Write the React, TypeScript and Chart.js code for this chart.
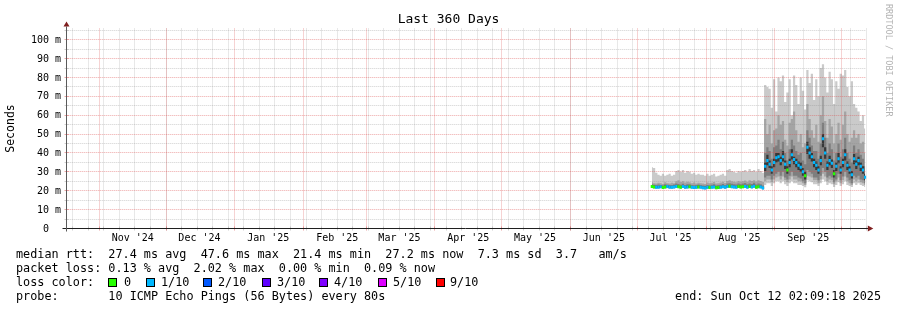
import React, { useEffect, useRef } from "react";
import { Chart, registerables } from "chart.js";

Chart.register(...registerables);

const FONT = '"DejaVu Sans Mono", "Liberation Mono", monospace';
const TITLE = "Last 360 Days";
const Y_TITLE = "Seconds";
const WATERMARK = "RRDTOOL / TOBI OETIKER";
const END_TEXT = "end: Sun Oct 12 02:09:18 2025";
const STATS_RTT = "median rtt:  27.4 ms avg  47.6 ms max  21.4 ms min  27.2 ms now  7.3 ms sd  3.7   am/s";
const STATS_LOSS = "packet loss: 0.13 % avg  2.02 % max  0.00 % min  0.09 % now";
const LOSS_TITLE = "loss color:";
const PROBE_LINE = "probe:       10 ICMP Echo Pings (56 Bytes) every 80s";

const SPAN_DAYS = 360;
const Y_MAX = 105.93;
const DAY_MS = 86400000;
const START_MS = Date.UTC(2024, 9, 17, 2, 9, 18);
const FIRST_SUNDAY_MS = Date.UTC(2024, 9, 20);

const yMajorValues = [0, 10, 20, 30, 40, 50, 60, 70, 80, 90, 100];
const yMajorLabels = ["0  ", "10 m", "20 m", "30 m", "40 m", "50 m", "60 m", "70 m", "80 m", "90 m", "100 m"];
const yMinorValues = [5, 15, 25, 35, 45, 55, 65, 75, 85, 95, 105];

const monthStarts: [number, number][] = [
  [2024, 10], [2024, 11], [2025, 0], [2025, 1], [2025, 2], [2025, 3],
  [2025, 4], [2025, 5], [2025, 6], [2025, 7], [2025, 8], [2025, 9],
];
const monthLabels = ["Nov '24", "Dec '24", "Jan '25", "Feb '25", "Mar '25", "Apr '25",
  "May '25", "Jun '25", "Jul '25", "Aug '25", "Sep '25", "Oct '25"];

const lossLegendLabels = ["0", "1/10", "2/10", "3/10", "4/10", "5/10", "9/10"];
const lossLegendColors = ["#26ff00", "#00b8ff", "#0059ff", "#5e00ff", "#7e00ff", "#dd00ff", "#ff0000"];
const lossColorByTenths: Record<number, string> = {
  0: "#26ff00", 1: "#00b8ff", 2: "#0059ff", 3: "#5e00ff", 4: "#7e00ff", 5: "#dd00ff", 9: "#ff0000",
};

// daily bins, first bin centred at day 263.5 after the graph start
const FIRST_BIN_DAY = 263.5;

const smokeMax = [
  32.5, 32, 29.5, 28.5, 28, 29, 28, 28.5, 29, 28,
  28.5, 30.5, 31, 30, 31, 29.5, 30.5, 30, 29, 29.5,
  28.5, 29, 28.5, 28.5, 28, 29, 28, 28.5, 29, 27.5,
  28, 28.5, 29, 28, 31, 31.5, 30.5, 30, 29.5, 30.5,
  30, 30.5, 31, 30, 31.5, 30.5, 31, 30, 31.5, 30.5,
  29.5,
  76, 75, 74, 64, 79, 62, 80, 78, 81, 67,
  72, 79, 60, 81, 76, 66, 80, 73, 63, 84,
  77, 82, 68, 79, 70, 85, 87, 80, 72, 83,
  79, 66, 78, 74, 82, 81, 84, 75, 70, 78,
  66, 64, 62, 57, 60, 53,
];
const smokeHi2 = [
  24.5, 24, 23.8, 24.2, 24, 23.6, 24.5, 24, 23.8, 24.2,
  24, 25, 25.5, 24.6, 25, 24.4, 24.8, 24.5, 24, 24.3,
  23.8, 24.2, 24, 23.9, 23.6, 24.4, 24, 24.2, 24.6, 23.8,
  24, 24.3, 24.8, 24.1, 25.2, 25.6, 25, 24.8, 24.5, 25.1,
  24.7, 25, 25.4, 24.8, 25.6, 25.2, 25.5, 24.9, 25.6, 25.1,
  24.6,
  58, 50, 55, 45, 52, 53, 60, 55, 57, 47,
  44, 56, 58, 62, 52, 46, 50, 43, 45, 66,
  58, 52, 48, 55, 46, 60, 70, 57, 48, 58,
  54, 45, 50, 56, 47, 55, 62, 50, 46, 48,
  52, 48, 50, 45, 46, 40,
];
const smokeHi3 = [
  23.4, 23.2, 23.0, 23.3, 23.1, 22.9, 23.4, 23.2, 23.0, 23.1,
  23.3, 23.8, 23.6, 23.2, 23.7, 23.0, 23.4, 23.5, 23.1, 22.9,
  23.0, 23.3, 23.1, 22.8, 22.7, 23.1, 22.9, 23.2, 23.4, 22.8,
  23.0, 23.2, 23.6, 23.1, 23.8, 24.0, 23.7, 23.5, 23.3, 23.9,
  23.5, 23.8, 24.1, 23.4, 23.9, 23.6, 24.2, 23.3, 23.8, 23.5,
  22.8,
  40, 43, 41, 37, 43, 44, 47, 42, 46, 40,
  36, 42, 47, 44, 41, 39, 40, 36, 34, 52,
  48, 44, 41, 41, 37, 45, 56, 48, 40, 45,
  42, 36, 40, 45, 38, 42, 48, 40, 37, 35,
  44, 40, 42, 39, 37, 33,
];
const smokeHi4 = [
  22.8, 22.6, 22.4, 22.5, 22.7, 22.3, 22.6, 22.8, 22.5, 22.4,
  22.6, 23.1, 22.7, 22.5, 22.8, 22.4, 22.6, 22.7, 22.5, 22.3,
  22.4, 22.6, 22.5, 22.2, 22.1, 22.4, 22.3, 22.5, 22.6, 22.2,
  22.3, 22.5, 22.7, 22.4, 22.9, 23.0, 22.7, 22.6, 22.5, 22.8,
  22.6, 22.7, 22.9, 22.5, 22.8, 22.6, 23.2, 22.4, 22.7, 22.6,
  22.0,
  35, 39, 36, 33, 37, 40, 40, 38, 41, 36,
  33, 37, 42, 38, 37, 35.5, 35, 32, 30, 46,
  43, 40, 37, 35.5, 33, 38.5, 50, 43, 35.5, 38.5,
  36.5, 31, 35, 40, 33, 37, 42, 35.5, 33, 30.5,
  39.5, 36, 38, 35, 33, 29,
];
const medianRtt = [
  22.2, 22.0, 21.8, 21.9, 22.1, 21.7, 22.0, 22.2, 21.9, 21.8,
  22.0, 22.3, 22.1, 21.9, 22.2, 21.8, 22.0, 22.1, 21.9, 21.7,
  21.8, 22.0, 21.9, 21.6, 21.5, 21.8, 21.7, 21.9, 22.0, 21.6,
  21.7, 21.9, 22.1, 21.8, 22.2, 22.4, 22.1, 22.0, 21.9, 22.2,
  22.0, 22.1, 22.3, 21.9, 22.2, 22.0, 22.4, 21.8, 22.1, 22.0,
  21.4,
  33, 36, 34, 31, 35, 37.5, 38, 36, 38, 34,
  31, 35, 39, 36.5, 35, 33.5, 32.5, 30, 28, 43,
  40, 38, 35, 33.5, 31, 36, 47.6, 40, 33.5, 36,
  34.5, 29, 33, 37, 31, 35, 39, 33.5, 31, 28.5,
  37, 34, 36, 33, 31, 27.2,
];
const smokeLo4 = [
  21.8, 21.7, 21.5, 21.6, 21.8, 21.4, 21.7, 21.9, 21.6, 21.5,
  21.7, 22.0, 21.8, 21.6, 21.9, 21.5, 21.7, 21.8, 21.6, 21.4,
  21.5, 21.7, 21.6, 21.3, 21.2, 21.5, 21.4, 21.6, 21.7, 21.3,
  21.4, 21.6, 21.8, 21.5, 21.9, 22.1, 21.8, 21.7, 21.6, 21.9,
  21.7, 21.8, 22.0, 21.6, 21.9, 21.7, 22.1, 21.5, 21.8, 21.7,
  21.1,
  30.5, 33.5, 32, 29, 32.5, 35, 35.5, 33.5, 35.5, 31.5,
  29, 32.5, 36.5, 34, 32.5, 31, 30, 28, 26, 39.5,
  37, 35.5, 32.5, 31, 29, 33.5, 43, 37, 31, 33.5,
  32, 27, 30.5, 34.5, 29, 32.5, 36, 31, 29, 26.5,
  34, 31.5, 33.5, 30.5, 29, 25.5,
];
const smokeLo3 = [
  21.6, 21.5, 21.3, 21.4, 21.6, 21.2, 21.5, 21.7, 21.4, 21.3,
  21.5, 21.8, 21.6, 21.4, 21.7, 21.3, 21.5, 21.6, 21.4, 21.2,
  21.3, 21.5, 21.4, 21.1, 21.0, 21.3, 21.2, 21.4, 21.5, 21.1,
  21.2, 21.4, 21.6, 21.3, 21.7, 21.9, 21.6, 21.5, 21.4, 21.7,
  21.5, 21.6, 21.8, 21.4, 21.7, 21.5, 21.9, 21.3, 21.6, 21.5,
  20.9,
  27, 28, 28, 26, 28, 29, 30, 28, 30, 27,
  26, 28, 30, 28, 28, 27, 26.5, 25, 24, 31,
  30, 29, 27, 27, 25.5, 28, 32, 30, 27, 28,
  27, 24.5, 26, 29, 25.5, 27.5, 30, 27, 25.5, 24,
  28, 27, 28, 26, 25.5, 24,
];
const smokeLo2 = [
  21.5, 21.3, 21.2, 21.3, 21.4, 21.1, 21.3, 21.5, 21.3, 21.2,
  21.3, 21.6, 21.5, 21.3, 21.5, 21.2, 21.3, 21.5, 21.3, 21.1,
  21.2, 21.3, 21.3, 21.0, 20.9, 21.2, 21.1, 21.3, 21.3, 21.0,
  21.1, 21.3, 21.4, 21.2, 21.5, 21.7, 21.5, 21.3, 21.3, 21.5,
  21.3, 21.5, 21.6, 21.3, 21.5, 21.4, 21.7, 21.2, 21.4, 21.4,
  20.8,
  25, 26, 26, 24.5, 26, 27, 27.5, 26, 27.5, 25.5,
  24.5, 26, 27.5, 26, 26, 25, 25, 24, 23, 28,
  27.5, 27, 25.5, 25.5, 24, 26, 29, 27.5, 25, 26,
  25.5, 23.5, 25, 27, 24, 25.5, 27.5, 25, 24, 23,
  26, 25, 26, 24.5, 24, 23,
];
const smokeMin = [
  21.3, 21.2, 21.0, 21.1, 21.3, 20.9, 21.2, 21.3, 21.1, 21.0,
  21.2, 21.4, 21.3, 21.1, 21.4, 21.0, 21.2, 21.3, 21.1, 20.9,
  21.0, 21.2, 21.1, 20.8, 20.7, 21.0, 20.9, 21.1, 21.2, 20.8,
  20.9, 21.1, 21.3, 21.0, 21.4, 21.5, 21.3, 21.2, 21.1, 21.4,
  21.2, 21.3, 21.5, 21.1, 21.4, 21.2, 21.5, 21.0, 21.3, 21.2,
  20.6,
  23, 24, 24, 22.5, 24, 25, 25, 24, 25, 23.5,
  22.5, 24, 25, 24, 24, 23, 23, 22.5, 21.8, 25.5,
  25, 24.5, 23.5, 23.5, 22.5, 24, 26, 25, 23, 24,
  23.5, 22, 23, 24.5, 22.5, 23.5, 25, 23, 22.5, 22,
  24, 23, 24, 23, 22.5, 22,
];
const lossTenths = [
  0, 0, 1, 1, 1, 0, 0, 1, 1, 1,
  1, 1, 0, 0, 1, 1, 1, 0, 1, 1,
  1, 0, 1, 1, 1, 1, 0, 1, 1, 0,
  0, 1, 1, 1, 1, 0, 1, 1, 1, 0,
  0, 0, 1, 1, 0, 1, 1, 0, 0, 1,
  1,
  1, 1, 1, 1, 1, 1, 1, 1, 1, 1,
  0, 1, 1, 1, 1, 1, 1, 1, 0, 1,
  1, 1, 1, 1, 1, 1, 1, 1, 1, 1,
  1, 0, 1, 1, 1, 1, 1, 1, 1, 1,
  1, 1, 1, 1, 1, 1,
];

const SMOKE_COLORS = ["#cacaca", "#a4a4a4", "#7e7e7e", "#383838"];
const GRID_MINOR = "rgba(143,143,143,0.42)";
const GRID_MAJOR = "rgba(222,79,79,0.5)";
const AXIS_COLOR = "#1f1f1f";
const ARROW_COLOR = "rgb(128,31,31)";

const dayOf = (ms: number) => (ms - START_MS) / DAY_MS;

function points(values: number[]) {
  return values.map((v, i) => ({ x: FIRST_BIN_DAY + i, y: v }));
}

function band(upper: number[], lower: number[], color: string) {
  const common = {
    borderWidth: 0,
    borderColor: "rgba(0,0,0,0)",
    pointRadius: 0,
    pointHoverRadius: 0,
    stepped: "middle" as const,
  };
  return [
    { ...common, data: points(upper), fill: "+1", backgroundColor: color },
    { ...common, data: points(lower), fill: false, backgroundColor: color },
  ];
}

function weeklyDays(): number[] {
  const out: number[] = [];
  for (let t = FIRST_SUNDAY_MS; dayOf(t) < SPAN_DAYS; t += 7 * DAY_MS) out.push(dayOf(t));
  return out;
}
function monthDays(): number[] {
  return monthStarts.map(([y, m]) => dayOf(Date.UTC(y, m, 1))).filter((d) => d > 0 && d < SPAN_DAYS);
}

function drawGrid(chart: any) {
  const { ctx, chartArea: a, scales } = chart;
  const xs = scales.x;
  const ys = scales.y;
  ctx.save();
  ctx.lineWidth = 1;
  ctx.setLineDash([1, 1]);
  const vline = (d: number) => {
    const px = Math.floor(xs.getPixelForValue(d)) + 0.5;
    ctx.beginPath();
    ctx.moveTo(px, a.top);
    ctx.lineTo(px, a.bottom);
    ctx.stroke();
  };
  const hline = (v: number) => {
    const py = Math.floor(ys.getPixelForValue(v)) + 0.5;
    ctx.beginPath();
    ctx.moveTo(a.left, py);
    ctx.lineTo(a.right, py);
    ctx.stroke();
  };
  ctx.strokeStyle = GRID_MINOR;
  weeklyDays().forEach(vline);
  yMinorValues.forEach(hline);
  ctx.strokeStyle = GRID_MAJOR;
  monthDays().forEach(vline);
  yMajorValues.filter((v) => v > 0).forEach(hline);
  ctx.restore();
}

function drawDecor(chart: any) {
  const { ctx, chartArea: a, scales } = chart;
  const xs = scales.x;
  const ys = scales.y;
  const x0 = Math.floor(a.left) + 0.5;
  const y0 = Math.floor(ys.getPixelForValue(0)) + 0.5;
  ctx.save();
  ctx.setLineDash([]);
  ctx.lineWidth = 1;

  const xTick = (d: number, color: string) => {
    const px = Math.floor(xs.getPixelForValue(d)) + 0.5;
    ctx.strokeStyle = color;
    ctx.beginPath();
    ctx.moveTo(px, y0 - 2);
    ctx.lineTo(px, y0 + 2);
    ctx.stroke();
  };
  const yTick = (v: number, color: string) => {
    const py = Math.floor(ys.getPixelForValue(v)) + 0.5;
    ctx.strokeStyle = color;
    ctx.beginPath();
    ctx.moveTo(x0 - 2, py);
    ctx.lineTo(x0 + 2, py);
    ctx.stroke();
  };
  weeklyDays().forEach((d) => xTick(d, GRID_MINOR));
  monthDays().forEach((d) => xTick(d, GRID_MAJOR));
  yMinorValues.forEach((v) => yTick(v, GRID_MINOR));
  yMajorValues.filter((v) => v > 0).forEach((v) => yTick(v, GRID_MAJOR));

  ctx.strokeStyle = AXIS_COLOR;
  ctx.beginPath();
  ctx.moveTo(x0 - 4, y0);
  ctx.lineTo(a.right + 2, y0);
  ctx.stroke();
  ctx.strokeStyle = "#5a5a5a";
  ctx.beginPath();
  ctx.moveTo(x0, y0 + 3);
  ctx.lineTo(x0, a.top - 2);
  ctx.stroke();

  ctx.fillStyle = ARROW_COLOR;
  ctx.beginPath();
  ctx.moveTo(a.right + 7, y0);
  ctx.lineTo(a.right + 1.5, y0 - 3);
  ctx.lineTo(a.right + 1.5, y0 + 3);
  ctx.closePath();
  ctx.fill();
  ctx.beginPath();
  ctx.moveTo(x0, a.top - 7);
  ctx.lineTo(x0 - 3, a.top - 2);
  ctx.lineTo(x0 + 3, a.top - 2);
  ctx.closePath();
  ctx.fill();

  ctx.fillStyle = "#000";
  ctx.font = `10px ${FONT}`;
  ctx.textAlign = "right";
  ctx.textBaseline = "middle";
  yMajorValues.forEach((v, i) => {
    ctx.fillText(yMajorLabels[i], a.left - 5.3, ys.getPixelForValue(v) + 0.5);
  });

  ctx.textAlign = "center";
  monthStarts.forEach(([y, m], i) => {
    const d = dayOf(Date.UTC(y, m, 16));
    if (d <= 0 || d >= SPAN_DAYS) return;
    ctx.fillText(monthLabels[i], xs.getPixelForValue(d), y0 + 9.5);
  });

  ctx.font = `13px ${FONT}`;
  ctx.fillText(TITLE, 448.5, 19.5);

  ctx.save();
  ctx.font = `11.5px ${FONT}`;
  ctx.translate(11.5, (a.top + a.bottom) / 2);
  ctx.rotate(-Math.PI / 2);
  ctx.fillText(Y_TITLE, 0, 0);
  ctx.restore();

  ctx.save();
  ctx.font = `8.5px ${FONT}`;
  ctx.fillStyle = "#b4b4b4";
  ctx.textAlign = "left";
  ctx.translate(888, 4);
  ctx.rotate(Math.PI / 2);
  ctx.fillText(WATERMARK, 0, 0);
  ctx.restore();

  ctx.font = `11.8px ${FONT}`;
  ctx.textAlign = "left";
  ctx.fillStyle = "#000";
  ctx.fillText(STATS_RTT, 16, 254.5);
  ctx.fillText(STATS_LOSS, 16, 268.5);
  ctx.fillText(LOSS_TITLE, 16, 282.5);
  ctx.fillText(PROBE_LINE, 16, 296.5);
  const squareX = [108, 146, 203, 262, 319, 378, 436];
  const labelX = [124, 161, 218, 277, 334, 393, 450];
  lossLegendLabels.forEach((lab, i) => {
    ctx.fillStyle = "#000";
    ctx.fillRect(squareX[i], 278, 9, 9);
    ctx.fillStyle = lossLegendColors[i];
    ctx.fillRect(squareX[i] + 1, 279, 7, 7);
    ctx.fillStyle = "#000";
    ctx.fillText(lab, labelX[i], 282.5);
  });
  ctx.textAlign = "right";
  ctx.fillText(END_TEXT, 881, 296.5);
  ctx.restore();
}

const rrdPlugin = {
  id: "rrdDecor",
  beforeDraw(chart: any) {
    const { ctx, width, height } = chart;
    ctx.save();
    ctx.fillStyle = "#fff";
    ctx.fillRect(0, 0, width, height);
    ctx.restore();
  },
  afterDatasetDraw(chart: any, args: any) {
    if (args.index === 1) drawGrid(chart);
  },
  afterDraw(chart: any) {
    drawDecor(chart);
  },
};

export default function App() {
  const ref = useRef<HTMLCanvasElement | null>(null);
  useEffect(() => {
    if (!ref.current) return;
    const medianDataset = {
      data: points(medianRtt),
      showLine: false,
      pointStyle: "line",
      pointRadius: 1.15,
      pointHoverRadius: 1.15,
      pointBorderWidth: 3,
      pointBorderColor: lossTenths.map((l) => lossColorByTenths[l]),
      pointBackgroundColor: lossTenths.map((l) => lossColorByTenths[l]),
      fill: false,
    };
    const datasets: any[] = [
      medianDataset,
      ...band(smokeHi4, smokeLo4, SMOKE_COLORS[3]),
      ...band(smokeHi3, smokeLo3, SMOKE_COLORS[2]),
      ...band(smokeHi2, smokeLo2, SMOKE_COLORS[1]),
      ...band(smokeMax, smokeMin, SMOKE_COLORS[0]),
    ];
    const chart = new Chart(ref.current, {
      type: "line",
      data: { datasets },
      options: {
        animation: false,
        responsive: false,
        devicePixelRatio: 1,
        events: [],
        layout: { padding: { left: 66.3, right: 897 - 866.3, top: 28.5, bottom: 310 - 228.5 } },
        plugins: { legend: { display: false }, tooltip: { enabled: false }, title: { display: false } },
        scales: {
          x: { type: "linear", min: 0, max: SPAN_DAYS, display: false },
          y: { type: "linear", min: 0, max: Y_MAX, display: false },
        },
      },
      plugins: [rrdPlugin],
    } as any);
    return () => chart.destroy();
  }, []);
  return (
    <div style={{ position: "fixed", left: 0, top: 0, width: 897, height: 310, background: "#fff" }}>
      <canvas ref={ref} width={897} height={310} style={{ display: "block", width: 897, height: 310 }} />
    </div>
  );
}
